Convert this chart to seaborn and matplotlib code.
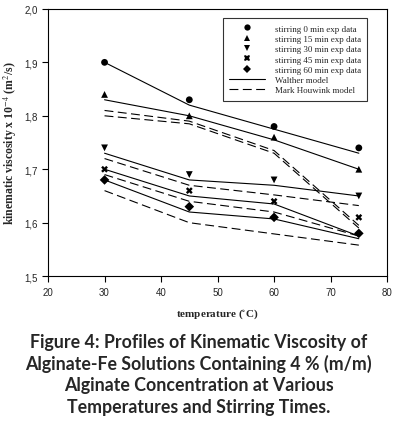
import numpy as np
import pandas as pd
import matplotlib
matplotlib.use("Agg")
import matplotlib.pyplot as plt
from matplotlib.lines import Line2D
import seaborn as sns

# temperatures (deg C)
temps = [30, 45, 60, 75]
groups = ["stirring 0 min", "stirring 15 min", "stirring 30 min",
          "stirring 45 min", "stirring 60 min"]

# experimental kinematic viscosity (x 1e-4 m2/s)
exp_0 = [1.90, 1.83, 1.78, 1.74]
exp_15 = [1.84, 1.80, 1.76, 1.70]
exp_30 = [1.74, 1.69, 1.68, 1.65]
exp_45 = [1.70, 1.66, 1.64, 1.61]
exp_60 = [1.68, 1.63, 1.61, 1.58]

# Walther model
walther_0 = [1.90, 1.82, 1.775, 1.73]
walther_15 = [1.83, 1.80, 1.755, 1.70]
walther_30 = [1.73, 1.68, 1.67, 1.65]
walther_45 = [1.70, 1.65, 1.635, 1.575]
walther_60 = [1.68, 1.62, 1.607, 1.57]

# Mark Houwink model
mh_0 = [1.81, 1.79, 1.735, 1.595]
mh_15 = [1.80, 1.785, 1.73, 1.59]
mh_30 = [1.72, 1.67, 1.652, 1.632]
mh_45 = [1.69, 1.64, 1.62, 1.575]
mh_60 = [1.66, 1.60, 1.579, 1.558]

exp_all = [exp_0, exp_15, exp_30, exp_45, exp_60]
walther_all = [walther_0, walther_15, walther_30, walther_45, walther_60]
mh_all = [mh_0, mh_15, mh_30, mh_45, mh_60]

rows = []
for g, e, w, m in zip(groups, exp_all, walther_all, mh_all):
    for t, ev, wv, mv in zip(temps, e, w, m):
        rows.append({"group": g, "temp": t, "exp": ev, "walther": wv, "mh": mv})
df = pd.DataFrame(rows)

sns.set_style("ticks")
plt.rcParams["font.family"] = ["Liberation Sans", "DejaVu Sans"]
plt.rcParams["mathtext.fontset"] = "stix"

fig = plt.figure(figsize=(3.97, 4.31), dpi=100)
ax = fig.add_axes([0.121, 0.357, 0.854, 0.62])

black = ["black"] * 5
sns.lineplot(data=df, x="temp", y="walther", hue="group", palette=black,
             linewidth=0.8, legend=False, ax=ax, estimator=None)
sns.lineplot(data=df, x="temp", y="mh", hue="group", palette=black,
             linewidth=0.8, legend=False, ax=ax, estimator=None,
             dashes=False)
for line in ax.get_lines()[5:]:
    line.set_dashes((8, 4))

markers = {"stirring 0 min": "o", "stirring 15 min": "^", "stirring 30 min": "v",
           "stirring 45 min": "X", "stirring 60 min": "D"}
sns.scatterplot(data=df, x="temp", y="exp", hue="group", style="group",
                markers=markers, palette=black, s=24, edgecolor="black",
                linewidth=0, legend=False, ax=ax, zorder=3)

ax.set_xlim(20, 80)
ax.set_ylim(1.5, 2.0)
ax.set_xticks(range(20, 81, 10))
ax.set_yticks([1.5, 1.6, 1.7, 1.8, 1.9, 2.0])
ax.set_yticklabels(["1,5", "1,6", "1,7", "1,8", "1,9", "2,0"])
ax.tick_params(labelsize=7, length=4, width=0.8, color="black")
for s in ax.spines.values():
    s.set_color("black")
    s.set_linewidth(0.8)

ax.set_xlabel("temperature ($^{\\circ}$C)", family="Liberation Serif",
              fontweight="bold", fontsize=8, labelpad=7)
ax.set_ylabel("kinematic viscosity x 10$^{-4}$ (m$^{2}$/s)",
              family="Liberation Serif", fontweight="bold", fontsize=8.5,
              labelpad=4)

handles = []
for g in groups:
    handles.append(Line2D([], [], linestyle="none", marker=markers[g],
                          color="black", markersize=4.5, markeredgewidth=0))
handles.append(Line2D([], [], color="black", linewidth=0.8))
handles.append(Line2D([], [], color="black", linewidth=0.8, dashes=(8, 4)))
labels = [g + " exp data" for g in groups] + ["Walther model", "Mark Houwink model"]
leg = ax.legend(handles, labels, loc="upper right", bbox_to_anchor=(0.941, 0.966),
                prop={"family": "Liberation Serif", "size": 6.5},
                frameon=True, fancybox=False, edgecolor="black",
                handlelength=3.9, labelspacing=0.22, borderpad=0.7,
                handletextpad=1.1, borderaxespad=0)
leg.get_frame().set_linewidth(0.8)

caption = ("Figure 4: Profiles of Kinematic Viscosity of\n"
           "Alginate-Fe Solutions Containing 4 % (m/m)\n"
           "Alginate Concentration at Various\n"
           "Temperatures and Stirring Times.")
fig.text(0.5, 0.131, caption, ha="center", va="center", fontsize=12.8,
         fontweight="bold", family="Lato", linespacing=1.3)

fig.savefig("out.png", dpi=100)
